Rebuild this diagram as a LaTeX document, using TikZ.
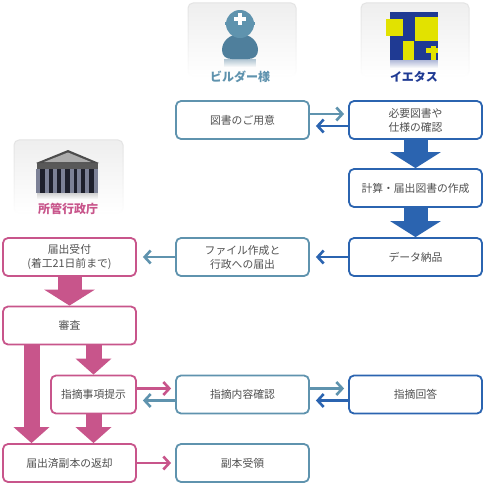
\documentclass[tikz,border=0pt]{standalone}
\usepackage{fontspec}
\setmainfont{Noto Sans CJK JP}
\definecolor{builder}{HTML}{5F93AE}
\definecolor{bodyblue}{HTML}{4F7F9C}
\definecolor{ietas}{HTML}{2B64B0}
\definecolor{gov}{HTML}{C8558B}
\definecolor{bodytxt}{HTML}{505050}
\definecolor{logoblue}{HTML}{1F3A93}
\definecolor{logoyel}{HTML}{E2E200}
\definecolor{column}{HTML}{7C8196}
\definecolor{portico}{HTML}{1E202C}
\usetikzlibrary{calc, positioning, arrows.meta, fadings}

\begin{document}
\begin{tikzpicture}[
  x=1pt, y=-1pt,
  flowbox/.style={draw, fill=white, rounded corners=5pt, line width=1.8pt,
                  minimum width=133pt, minimum height=38pt, align=center,
                  text=bodytxt, font=\fontsize{10.8}{14}\selectfont, inner sep=0pt},
  bbox/.style={flowbox, draw=builder},
  ibox/.style={flowbox, draw=ietas},
  gbox/.style={flowbox, draw=gov},
  bigi/.style={ietas, line width=24pt, -{Triangle[length=16pt,width=50pt]}},
  bigg/.style={gov, line width=16pt, -{Triangle[length=16pt,width=35pt]}},
  bigga/.style={gov, line width=24pt, -{Triangle[length=16pt,width=50pt]}},
  thin arr/.style={line width=2.6pt, -{Straight Barb[length=6pt,width=13pt]}},
  card/.style={draw=gray!22, line width=1pt, rounded corners=5pt, path fading=south},
  cardfill/.style={top color=gray!13, bottom color=white, rounded corners=5pt},
  actor/.style={font=\fontsize{12}{14}\selectfont\bfseries},
]
\useasboundingbox (0,0) rectangle (491,493);
\fill[white] (0,0) rectangle (491,493);

% icon cards
\shade[cardfill] (188,3) rectangle (296,76);
\draw[card] (188,3) rectangle (296,76);
\shade[cardfill] (361,3) rectangle (469,76);
\draw[card] (361,3) rectangle (469,76);
\shade[cardfill] (14,140) rectangle (123,213);
\draw[card] (14,140) rectangle (123,213);

% person
\fill[bodyblue!45, path fading=south] (224,59) rectangle (256,67);
\fill[bodyblue] (222,50) .. controls (222,41) and (230,34) .. (240,34)
  .. controls (250,34) and (258,41) .. (258,50)
  .. controls (258,56) and (254,59) .. (248,59) -- (232,59)
  .. controls (226,59) and (222,56) .. (222,50) -- cycle;
\fill[builder] (240,24) circle (14);
\fill[builder] (225,22) rectangle (255,24.5);
\fill[white] (238,13) rectangle (242,25);
\fill[white] (234,17) rectangle (246,21);

% logo
\fill[logoblue] (390,12) rectangle (438,60);
\fill[logoyel] (386,19) rectangle (403,36);
\fill[logoyel] (415,17) rectangle (438,41);
\fill[logoyel] (403,41) rectangle (414,60);
\fill[logoyel] (426,48) rectangle (438,53);
\fill[logoyel] (431,46) rectangle (436,60);
\fill[logoblue!35, path fading=south] (390,60) rectangle (438,68);

% building
\fill[gray!35, path fading=south] (37,193) rectangle (98,199);
\fill[portico] (37,169) rectangle (98,193);
\foreach \colx in {38,47,55,63,72,79,87,96}
  \fill[column] (\colx-1.8,169) rectangle (\colx+1.8,193);
\fill[gray!70!black] (37,163) rectangle (98,169);
\fill[black!70] (36,163) -- (68,150) -- (99,163) -- cycle;
\fill[gray!65] (44,162) -- (68,152.5) -- (91,162) -- cycle;

\node[actor, text=builder] (blabel) at (240,77) {ビルダー様};
\node[actor, text=logoblue] (ilabel) at (414,77) {イエタス};
\node[actor, text=gov] (glabel) at (68,209) {所管行政庁};

\node[bbox] (prepare) at (242.5,120) {図書のご用意};
\node[ibox] (confirm) at (415.5,120) {必要図書や\\仕様の確認};
\node[ibox] (drawing) at (415.5,188) {計算・届出図書の作成};
\node[gbox] (accept) at (69.5,257) {届出受付\\(着工21日前まで)};
\node[bbox] (submit) at (242.5,257) {ファイル作成と\\行政への届出};
\node[ibox] (deliver) at (415.5,257) {データ納品};
\node[gbox] (review) at (69.5,325.5) {審査};
\node[gbox, minimum width=85pt] (point) at (93.5,394.5) {指摘事項提示};
\node[bbox] (check) at (242.5,394.5) {指摘内容確認};
\node[ibox] (answer) at (415.5,394.5) {指摘回答};
\node[gbox] (retcopy) at (69.5,463) {届出済副本の返却};
\node[bbox] (rcvcopy) at (242.5,463) {副本受領};

\draw[bigi] (confirm.south) -- (drawing.north);
\draw[bigi] (drawing.south) -- (deliver.north);
\draw[bigga] (accept.south) -- (review.north);
\draw[bigg] (point.north |- review.south) -- (point.north);
\draw[bigg] (point.south) -- (point.south |- retcopy.north);
\draw[bigg] ([xshift=-38pt]review.south) -- ([xshift=-38pt]retcopy.north);

\draw[thin arr, builder] ([yshift=6pt]prepare.east) -- ([xshift=-4pt,yshift=6pt]confirm.west);
\draw[thin arr, ietas] ([yshift=-6pt]confirm.west) -- ([xshift=6pt,yshift=-6pt]prepare.east);
\draw[thin arr, ietas] (deliver) -- ([xshift=6pt]submit.east);
\draw[thin arr, builder] (submit) -- ([xshift=6pt]accept.east);
\draw[thin arr, gov] ([yshift=6pt]point.east) -- ([xshift=-4pt,yshift=6pt]check.west);
\draw[thin arr, builder] ([yshift=-6pt]check.west) -- ([xshift=6pt,yshift=-6pt]point.east);
\draw[thin arr, builder] ([yshift=6pt]check.east) -- ([xshift=-4pt,yshift=6pt]answer.west);
\draw[thin arr, ietas] ([yshift=-6pt]answer.west) -- ([xshift=6pt,yshift=-6pt]check.east);
\draw[thin arr, gov] (retcopy) -- ([xshift=-4pt]rcvcopy.west);
\end{tikzpicture}
\end{document}
